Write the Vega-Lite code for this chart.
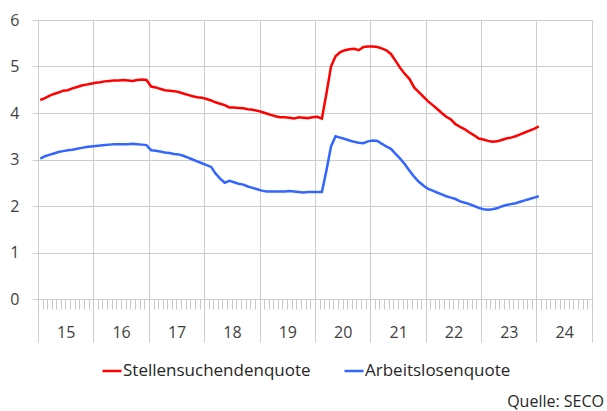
{
  "$schema": "https://vega.github.io/schema/vega-lite/v6.json",
  "autosize": "none",
  "width": 554,
  "height": 279,
  "padding": {"left": 38, "top": 20, "right": 15, "bottom": 112},
  "background": "white",
  "config": {
    "view": {"stroke": null},
    "font": "Open Sans"
  },
  "title": {"text": "Quelle: SECO", "orient": "bottom", "anchor": "end", "frame": "group", "fontSize": 16, "fontWeight": "normal", "color": "#262626", "font": "Open Sans", "dx": 12, "offset": 15},
  "data": {"values": [
    {"m": "2015-01-16", "Stellensuchendenquote": 4.28, "Arbeitslosenquote": 3.02},
    {"m": "2015-02-16", "Stellensuchendenquote": 4.32, "Arbeitslosenquote": 3.07},
    {"m": "2015-03-16", "Stellensuchendenquote": 4.37, "Arbeitslosenquote": 3.10},
    {"m": "2015-04-16", "Stellensuchendenquote": 4.41, "Arbeitslosenquote": 3.13},
    {"m": "2015-05-16", "Stellensuchendenquote": 4.44, "Arbeitslosenquote": 3.16},
    {"m": "2015-06-16", "Stellensuchendenquote": 4.48, "Arbeitslosenquote": 3.18},
    {"m": "2015-07-16", "Stellensuchendenquote": 4.49, "Arbeitslosenquote": 3.20},
    {"m": "2015-08-16", "Stellensuchendenquote": 4.53, "Arbeitslosenquote": 3.21},
    {"m": "2015-09-16", "Stellensuchendenquote": 4.56, "Arbeitslosenquote": 3.23},
    {"m": "2015-10-16", "Stellensuchendenquote": 4.59, "Arbeitslosenquote": 3.25},
    {"m": "2015-11-16", "Stellensuchendenquote": 4.61, "Arbeitslosenquote": 3.27},
    {"m": "2015-12-16", "Stellensuchendenquote": 4.63, "Arbeitslosenquote": 3.28},
    {"m": "2016-01-16", "Stellensuchendenquote": 4.65, "Arbeitslosenquote": 3.29},
    {"m": "2016-02-16", "Stellensuchendenquote": 4.66, "Arbeitslosenquote": 3.30},
    {"m": "2016-03-16", "Stellensuchendenquote": 4.68, "Arbeitslosenquote": 3.31},
    {"m": "2016-04-16", "Stellensuchendenquote": 4.69, "Arbeitslosenquote": 3.32},
    {"m": "2016-05-16", "Stellensuchendenquote": 4.70, "Arbeitslosenquote": 3.33},
    {"m": "2016-06-16", "Stellensuchendenquote": 4.70, "Arbeitslosenquote": 3.33},
    {"m": "2016-07-16", "Stellensuchendenquote": 4.71, "Arbeitslosenquote": 3.33},
    {"m": "2016-08-16", "Stellensuchendenquote": 4.70, "Arbeitslosenquote": 3.33},
    {"m": "2016-09-16", "Stellensuchendenquote": 4.69, "Arbeitslosenquote": 3.34},
    {"m": "2016-10-16", "Stellensuchendenquote": 4.71, "Arbeitslosenquote": 3.33},
    {"m": "2016-11-16", "Stellensuchendenquote": 4.72, "Arbeitslosenquote": 3.32},
    {"m": "2016-12-16", "Stellensuchendenquote": 4.71, "Arbeitslosenquote": 3.31},
    {"m": "2017-01-16", "Stellensuchendenquote": 4.57, "Arbeitslosenquote": 3.20},
    {"m": "2017-02-16", "Stellensuchendenquote": 4.55, "Arbeitslosenquote": 3.19},
    {"m": "2017-03-16", "Stellensuchendenquote": 4.52, "Arbeitslosenquote": 3.17},
    {"m": "2017-04-16", "Stellensuchendenquote": 4.49, "Arbeitslosenquote": 3.15},
    {"m": "2017-05-16", "Stellensuchendenquote": 4.48, "Arbeitslosenquote": 3.14},
    {"m": "2017-06-16", "Stellensuchendenquote": 4.47, "Arbeitslosenquote": 3.12},
    {"m": "2017-07-16", "Stellensuchendenquote": 4.45, "Arbeitslosenquote": 3.11},
    {"m": "2017-08-16", "Stellensuchendenquote": 4.42, "Arbeitslosenquote": 3.08},
    {"m": "2017-09-16", "Stellensuchendenquote": 4.39, "Arbeitslosenquote": 3.04},
    {"m": "2017-10-16", "Stellensuchendenquote": 4.36, "Arbeitslosenquote": 3.00},
    {"m": "2017-11-16", "Stellensuchendenquote": 4.34, "Arbeitslosenquote": 2.96},
    {"m": "2017-12-16", "Stellensuchendenquote": 4.33, "Arbeitslosenquote": 2.92},
    {"m": "2018-01-16", "Stellensuchendenquote": 4.30, "Arbeitslosenquote": 2.88},
    {"m": "2018-02-16", "Stellensuchendenquote": 4.27, "Arbeitslosenquote": 2.84},
    {"m": "2018-03-16", "Stellensuchendenquote": 4.23, "Arbeitslosenquote": 2.70},
    {"m": "2018-04-16", "Stellensuchendenquote": 4.20, "Arbeitslosenquote": 2.59},
    {"m": "2018-05-16", "Stellensuchendenquote": 4.17, "Arbeitslosenquote": 2.50},
    {"m": "2018-06-16", "Stellensuchendenquote": 4.12, "Arbeitslosenquote": 2.54},
    {"m": "2018-07-16", "Stellensuchendenquote": 4.12, "Arbeitslosenquote": 2.51},
    {"m": "2018-08-16", "Stellensuchendenquote": 4.11, "Arbeitslosenquote": 2.48},
    {"m": "2018-09-16", "Stellensuchendenquote": 4.10, "Arbeitslosenquote": 2.46},
    {"m": "2018-10-16", "Stellensuchendenquote": 4.08, "Arbeitslosenquote": 2.42},
    {"m": "2018-11-16", "Stellensuchendenquote": 4.07, "Arbeitslosenquote": 2.39},
    {"m": "2018-12-16", "Stellensuchendenquote": 4.05, "Arbeitslosenquote": 2.36},
    {"m": "2019-01-16", "Stellensuchendenquote": 4.02, "Arbeitslosenquote": 2.33},
    {"m": "2019-02-16", "Stellensuchendenquote": 3.99, "Arbeitslosenquote": 2.31},
    {"m": "2019-03-16", "Stellensuchendenquote": 3.96, "Arbeitslosenquote": 2.31},
    {"m": "2019-04-16", "Stellensuchendenquote": 3.93, "Arbeitslosenquote": 2.31},
    {"m": "2019-05-16", "Stellensuchendenquote": 3.91, "Arbeitslosenquote": 2.31},
    {"m": "2019-06-16", "Stellensuchendenquote": 3.91, "Arbeitslosenquote": 2.31},
    {"m": "2019-07-16", "Stellensuchendenquote": 3.90, "Arbeitslosenquote": 2.32},
    {"m": "2019-08-16", "Stellensuchendenquote": 3.88, "Arbeitslosenquote": 2.31},
    {"m": "2019-09-16", "Stellensuchendenquote": 3.91, "Arbeitslosenquote": 2.30},
    {"m": "2019-10-16", "Stellensuchendenquote": 3.90, "Arbeitslosenquote": 2.29},
    {"m": "2019-11-16", "Stellensuchendenquote": 3.89, "Arbeitslosenquote": 2.30},
    {"m": "2019-12-16", "Stellensuchendenquote": 3.91, "Arbeitslosenquote": 2.30},
    {"m": "2020-01-16", "Stellensuchendenquote": 3.92, "Arbeitslosenquote": 2.30},
    {"m": "2020-02-16", "Stellensuchendenquote": 3.88, "Arbeitslosenquote": 2.30},
    {"m": "2020-03-16", "Stellensuchendenquote": 4.40, "Arbeitslosenquote": 2.75},
    {"m": "2020-04-16", "Stellensuchendenquote": 5.00, "Arbeitslosenquote": 3.28},
    {"m": "2020-05-16", "Stellensuchendenquote": 5.22, "Arbeitslosenquote": 3.50},
    {"m": "2020-06-16", "Stellensuchendenquote": 5.31, "Arbeitslosenquote": 3.47},
    {"m": "2020-07-16", "Stellensuchendenquote": 5.35, "Arbeitslosenquote": 3.44},
    {"m": "2020-08-16", "Stellensuchendenquote": 5.37, "Arbeitslosenquote": 3.41},
    {"m": "2020-09-16", "Stellensuchendenquote": 5.38, "Arbeitslosenquote": 3.38},
    {"m": "2020-10-16", "Stellensuchendenquote": 5.35, "Arbeitslosenquote": 3.36},
    {"m": "2020-11-16", "Stellensuchendenquote": 5.42, "Arbeitslosenquote": 3.35},
    {"m": "2020-12-16", "Stellensuchendenquote": 5.43, "Arbeitslosenquote": 3.39},
    {"m": "2021-01-16", "Stellensuchendenquote": 5.43, "Arbeitslosenquote": 3.41},
    {"m": "2021-02-16", "Stellensuchendenquote": 5.42, "Arbeitslosenquote": 3.40},
    {"m": "2021-03-16", "Stellensuchendenquote": 5.39, "Arbeitslosenquote": 3.34},
    {"m": "2021-04-16", "Stellensuchendenquote": 5.35, "Arbeitslosenquote": 3.28},
    {"m": "2021-05-16", "Stellensuchendenquote": 5.27, "Arbeitslosenquote": 3.23},
    {"m": "2021-06-16", "Stellensuchendenquote": 5.12, "Arbeitslosenquote": 3.12},
    {"m": "2021-07-16", "Stellensuchendenquote": 4.97, "Arbeitslosenquote": 3.02},
    {"m": "2021-08-16", "Stellensuchendenquote": 4.84, "Arbeitslosenquote": 2.90},
    {"m": "2021-09-16", "Stellensuchendenquote": 4.73, "Arbeitslosenquote": 2.76},
    {"m": "2021-10-16", "Stellensuchendenquote": 4.55, "Arbeitslosenquote": 2.63},
    {"m": "2021-11-16", "Stellensuchendenquote": 4.45, "Arbeitslosenquote": 2.52},
    {"m": "2021-12-16", "Stellensuchendenquote": 4.35, "Arbeitslosenquote": 2.44},
    {"m": "2022-01-16", "Stellensuchendenquote": 4.25, "Arbeitslosenquote": 2.37},
    {"m": "2022-02-16", "Stellensuchendenquote": 4.17, "Arbeitslosenquote": 2.33},
    {"m": "2022-03-16", "Stellensuchendenquote": 4.09, "Arbeitslosenquote": 2.29},
    {"m": "2022-04-16", "Stellensuchendenquote": 4.00, "Arbeitslosenquote": 2.25},
    {"m": "2022-05-16", "Stellensuchendenquote": 3.92, "Arbeitslosenquote": 2.21},
    {"m": "2022-06-16", "Stellensuchendenquote": 3.86, "Arbeitslosenquote": 2.18},
    {"m": "2022-07-16", "Stellensuchendenquote": 3.76, "Arbeitslosenquote": 2.15},
    {"m": "2022-08-16", "Stellensuchendenquote": 3.70, "Arbeitslosenquote": 2.10},
    {"m": "2022-09-16", "Stellensuchendenquote": 3.65, "Arbeitslosenquote": 2.07},
    {"m": "2022-10-16", "Stellensuchendenquote": 3.58, "Arbeitslosenquote": 2.04},
    {"m": "2022-11-16", "Stellensuchendenquote": 3.52, "Arbeitslosenquote": 2.00},
    {"m": "2022-12-16", "Stellensuchendenquote": 3.45, "Arbeitslosenquote": 1.96},
    {"m": "2023-01-16", "Stellensuchendenquote": 3.43, "Arbeitslosenquote": 1.93},
    {"m": "2023-02-16", "Stellensuchendenquote": 3.40, "Arbeitslosenquote": 1.92},
    {"m": "2023-03-16", "Stellensuchendenquote": 3.38, "Arbeitslosenquote": 1.93},
    {"m": "2023-04-16", "Stellensuchendenquote": 3.39, "Arbeitslosenquote": 1.95},
    {"m": "2023-05-16", "Stellensuchendenquote": 3.42, "Arbeitslosenquote": 1.99},
    {"m": "2023-06-16", "Stellensuchendenquote": 3.45, "Arbeitslosenquote": 2.02},
    {"m": "2023-07-16", "Stellensuchendenquote": 3.47, "Arbeitslosenquote": 2.04},
    {"m": "2023-08-16", "Stellensuchendenquote": 3.50, "Arbeitslosenquote": 2.06},
    {"m": "2023-09-16", "Stellensuchendenquote": 3.54, "Arbeitslosenquote": 2.09},
    {"m": "2023-10-16", "Stellensuchendenquote": 3.58, "Arbeitslosenquote": 2.12},
    {"m": "2023-11-16", "Stellensuchendenquote": 3.62, "Arbeitslosenquote": 2.15},
    {"m": "2023-12-16", "Stellensuchendenquote": 3.66, "Arbeitslosenquote": 2.18},
    {"m": "2024-01-16", "Stellensuchendenquote": 3.71, "Arbeitslosenquote": 2.21}
  ]},
  "transform": [
    {"fold": ["Stellensuchendenquote", "Arbeitslosenquote"], "as": ["Reihe", "Wert"]}
  ],
  "layer": [
    {
      "transform": [{"filter": "datum.Reihe == 'Stellensuchendenquote'"}],
      "mark": {"type": "line", "strokeWidth": 2.5, "interpolate": "linear"},
      "encoding": {
        "x": {
          "field": "m", "type": "temporal",
          "scale": {"type": "utc", "domain": [{"year": 2015, "month": 1, "date": 1, "utc": true}, {"year": 2025, "month": 1, "date": 1, "utc": true}], "nice": false},
          "axis": {
            "orient": "bottom", "title": null,
            "tickCount": {"interval": "year", "step": 1},
            "grid": true, "gridColor": "#cdcdcd", "gridWidth": 1,
            "domain": true, "domainColor": "#cdcdcd",
            "ticks": true, "tickColor": "#cdcdcd", "tickSize": 43,
            "labelExpr": "utcFormat(datum.value, '%Y') == '2025' ? '' : utcFormat(datum.value, '%y')",
            "labelOffset": 27.7, "labelAlign": "center", "labelBaseline": "alphabetic", "labelPadding": -5,
            "labelFlush": false, "labelOverlap": false,
            "labelFontSize": 16, "labelColor": "#404040", "labelFont": "Open Sans"
          }
        },
        "y": {
          "field": "Wert", "type": "quantitative",
          "scale": {"domain": [0, 6], "nice": false},
          "axis": {
            "title": null, "values": [0, 1, 2, 3, 4, 5, 6],
            "grid": true, "gridColor": "#cdcdcd", "domain": false,
            "ticks": true, "tickSize": 6, "tickColor": "#cdcdcd",
            "labelPadding": 13, "labelFontSize": 16, "labelColor": "#404040", "labelFont": "Open Sans"
          }
        },
        "color": {
          "field": "Reihe", "type": "nominal",
          "scale": {"domain": ["Stellensuchendenquote", "Arbeitslosenquote"], "range": ["#ff0000", "#3366ff"]},
          "legend": {
            "title": null, "orient": "none", "legendX": 63, "legendY": 340,
            "direction": "horizontal", "symbolType": "stroke", "symbolStrokeWidth": 2.5, "symbolSize": 360,
            "labelFontSize": 17, "labelFont": "Open Sans", "labelColor": "#262626", "labelOffset": 0, "labelLimit": 400, "columnPadding": 28
          }
        }
      }
    },
    {
      "transform": [{"filter": "datum.Reihe == 'Arbeitslosenquote'"}],
      "mark": {"type": "line", "strokeWidth": 2.5, "interpolate": "linear"},
      "encoding": {
        "x": {
          "field": "m", "type": "temporal",
          "axis": {
            "orient": "bottom", "title": null,
            "tickCount": {"interval": "month", "step": 1},
            "grid": false, "domain": false, "labels": false,
            "ticks": true, "tickColor": "#c8c8c8", "tickSize": 10
          }
        },
        "y": {"field": "Wert", "type": "quantitative"},
        "color": {"field": "Reihe", "type": "nominal"}
      }
    }
  ],
  "resolve": {"axis": {"x": "independent"}}
}
